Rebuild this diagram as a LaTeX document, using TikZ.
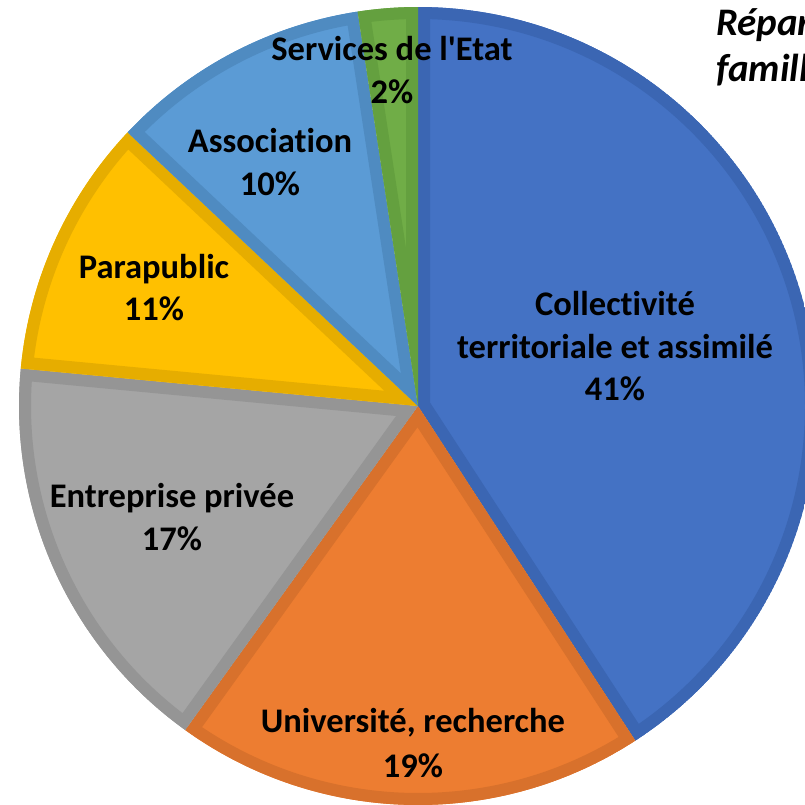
\documentclass[tikz,border=0pt]{standalone}
\usepackage{fontspec}
\newfontfamily\chartfont{Carlito}[RawFeature={-liga;-clig;-dlig}]
\definecolor{cBlue}{HTML}{4472C4}
\definecolor{cBlueD}{HTML}{3B66B3}
\definecolor{cOrange}{HTML}{ED7D31}
\definecolor{cOrangeD}{HTML}{D8712C}
\definecolor{cGray}{HTML}{A5A5A5}
\definecolor{cGrayD}{HTML}{959595}
\definecolor{cYellow}{HTML}{FFC000}
\definecolor{cYellowD}{HTML}{E6AD00}
\definecolor{cLBlue}{HTML}{5B9BD5}
\definecolor{cLBlueD}{HTML}{4F8BC1}
\definecolor{cGreen}{HTML}{70AD47}
\definecolor{cGreenD}{HTML}{64A03F}
\newcommand\pieslice[4]{%
  \begin{scope}
    \clip (C) -- ++(#1:399pt) arc[start angle=#1, end angle=#2, radius=399pt] -- cycle;
    \fill[#3] (C) -- ++(#1:399pt) arc[start angle=#1, end angle=#2, radius=399pt] -- cycle;
    \draw[#4, line width=24pt] (C) -- ++(#1:399pt) arc[start angle=#1, end angle=#2, radius=399pt] -- cycle;
  \end{scope}}
\tikzset{
  lbl/.style={inner sep=0pt, anchor=base, font=\chartfont\bfseries\fontsize{34.5}{40}\selectfont, text=black},
  ttl/.style={inner sep=0pt, anchor=base west, font=\chartfont\bfseries\itshape\fontsize{39}{44}\selectfont, text=black}
}
\begin{document}
\begin{tikzpicture}
\useasboundingbox (0pt,0pt) rectangle (805pt,-804pt);
\clip (0pt,0pt) rectangle (805pt,-804pt);
\coordinate (C) at (418pt,-406pt);
\pieslice{90}{-57}{cBlue}{cBlueD}
\pieslice{-57}{-125.7}{cOrange}{cOrangeD}
\pieslice{-125.7}{-185.4}{cGray}{cGrayD}
\pieslice{-185.4}{-223.3}{cYellow}{cYellowD}
\pieslice{-223.3}{-261.3}{cLBlue}{cLBlueD}
\pieslice{-261.3}{-270}{cGreen}{cGreenD}
% labels
\node[lbl] (s1) at (392pt,-60pt) {Services de l'Etat};
\node[lbl] (s2) at (392pt,-103pt) {2\%};
\node[lbl] (a1) at (270pt,-152pt) {Association};
\node[lbl] (a2) at (270pt,-195pt) {10\%};
\node[lbl] (p1) at (154pt,-278pt) {Parapublic};
\node[lbl] (p2) at (154pt,-320pt) {11\%};
\node[lbl] (c1) at (615pt,-315pt) {Collectivité};
\node[lbl] (c2) at (615pt,-358pt) {territoriale et assimilé};
\node[lbl] (c3) at (615pt,-400pt) {41\%};
\node[lbl] (e1) at (172pt,-507pt) {Entreprise privée};
\node[lbl] (e2) at (172pt,-550pt) {17\%};
\node[lbl] (u1) at (413pt,-732pt) {Université, recherche};
\node[lbl] (u2) at (413pt,-777pt) {19\%};
% title (cut by the picture's edge, as in the reference)
\node[ttl] (t1) at (716pt,-35pt) {Répartition};
\node[ttl] (t2) at (716pt,-81pt) {famille};
\end{tikzpicture}
\end{document}
